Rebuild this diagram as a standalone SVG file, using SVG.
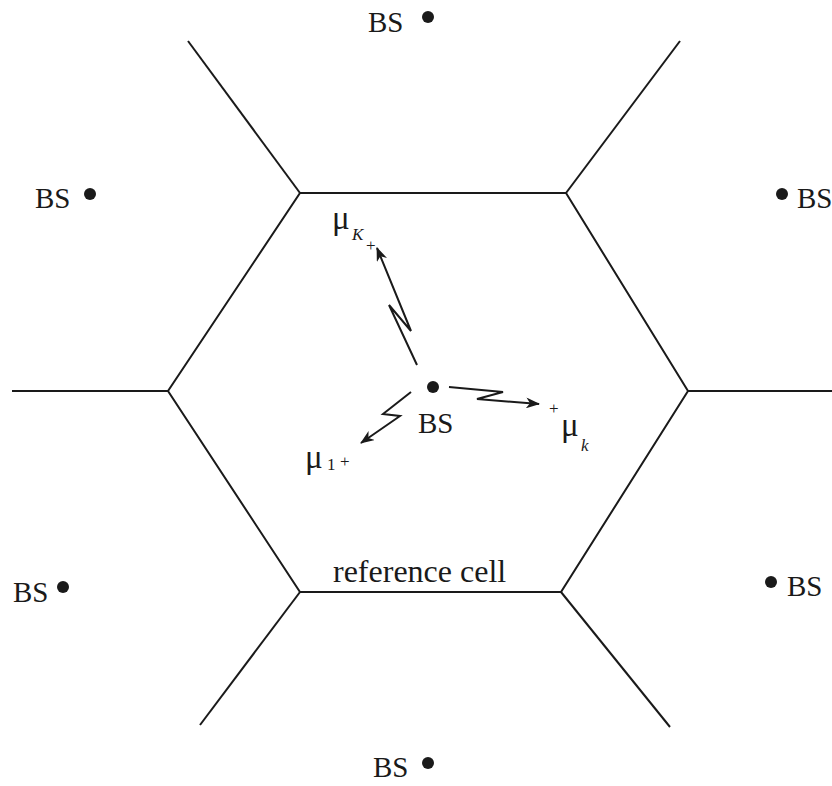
<svg xmlns="http://www.w3.org/2000/svg" width="832" height="786" viewBox="0 0 832 786">
<style>
.ln{fill:none;stroke:#1a1a1a;stroke-width:2;stroke-linejoin:miter}
.ar{fill:none;stroke:#1a1a1a;stroke-width:2}
.t{font-family:"Liberation Serif","Times New Roman",serif;fill:#1a1a1a}
.bs{font-size:29px}
.mu{font-size:33px}
.sub{font-size:17px}
.dot{fill:#1a1a1a}
</style>
<defs>
<marker id="ah" viewBox="0 0 14 11" refX="13" refY="5.5" markerWidth="14" markerHeight="11" markerUnits="userSpaceOnUse" orient="auto">
<path d="M0,0 L14,5.5 L0,11 L4,5.5 Z" fill="#1a1a1a"/>
</marker>
</defs>
<g id="cells">
<polygon class="ln" points="300,193 566,193 688,391 561,592 300,592 168,391"/>
<line class="ln" x1="300" y1="193" x2="188" y2="41"/>
<line class="ln" x1="566" y1="193" x2="680" y2="41"/>
<line class="ln" x1="168" y1="391" x2="12" y2="391"/>
<line class="ln" x1="688" y1="391" x2="832" y2="391"/>
<line class="ln" x1="300" y1="592" x2="200" y2="725"/>
<line class="ln" x1="561" y1="592" x2="670" y2="727"/>
<text class="t" x="333" y="582" font-size="32">reference cell</text>
</g>
<g id="bs-center"><circle class="dot" cx="433" cy="387" r="6"/><text class="t bs" x="418" y="433">BS</text></g>
<g id="bs-top"><circle class="dot" cx="428" cy="17" r="6"/><text class="t bs" x="368" y="32">BS</text></g>
<g id="bs-upper-left"><circle class="dot" cx="90" cy="194" r="6"/><text class="t bs" x="35" y="208">BS</text></g>
<g id="bs-upper-right"><circle class="dot" cx="782" cy="194" r="6"/><text class="t bs" x="797" y="208">BS</text></g>
<g id="bs-lower-left"><circle class="dot" cx="63" cy="587" r="6"/><text class="t bs" x="13" y="602">BS</text></g>
<g id="bs-lower-right"><circle class="dot" cx="771" cy="582" r="6"/><text class="t bs" x="787" y="596">BS</text></g>
<g id="bs-bottom"><circle class="dot" cx="428" cy="763" r="6"/><text class="t bs" x="373" y="777">BS</text></g>
<g id="connectors">
<polyline class="ar" points="417,365 389,305 411,331 377,248" marker-end="url(#ah)"/>
<polyline class="ar" points="411,392 383,414 400,416 361,443" marker-end="url(#ah)"/>
<polyline class="ar" points="449,387 503,392 477,399 539,404" marker-end="url(#ah)"/>
</g>
<g id="user-K">
<text class="t mu" x="332" y="229">μ</text>
<text class="t sub" x="352" y="240" font-style="italic">K</text>
<text class="t sub" x="366" y="251">+</text>
</g>
<g id="user-1">
<text class="t mu" x="305" y="468">μ</text>
<text class="t sub" x="327" y="470">1</text>
<text class="t sub" x="340" y="467">+</text>
</g>
<g id="user-k">
<text class="t sub" x="549" y="414">+</text>
<text class="t mu" x="561" y="436">μ</text>
<text class="t sub" x="581" y="451" font-style="italic">k</text>
</g>
</svg>
